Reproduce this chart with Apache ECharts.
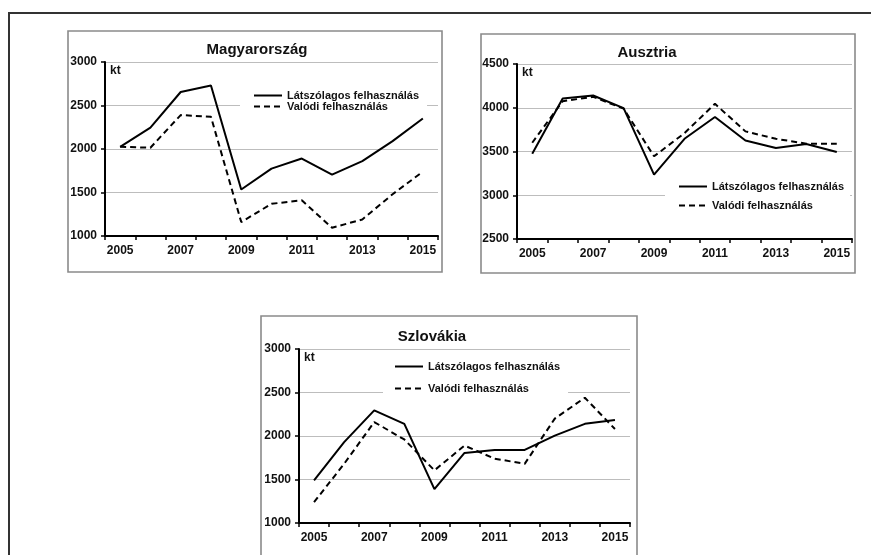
<!DOCTYPE html>
<html>
<head>
<meta charset="utf-8">
<title>Látszólagos és valódi felhasználás</title>
<script src="https://cdn.jsdelivr.net/npm/echarts@6.0.0/dist/echarts.min.js"></script>
<style>
  html, body { margin: 0; padding: 0; background: #fff; }
  #chart { width: 871px; height: 555px; }
</style>
</head>
<body>
<div id="chart"></div>
<script>
// évek (kategóriák)
const years = ['2005', '2006', '2007', '2008', '2009', '2010', '2011', '2012', '2013', '2014', '2015'];

// Magyarország, kt
const huLatszolagos = [2025, 2245, 2655, 2730, 1535, 1775, 1890, 1705, 1860, 2090, 2350];
const huValodi = [2025, 2015, 2390, 2370, 1160, 1370, 1410, 1095, 1190, 1480, 1740];

// Ausztria, kt
const atLatszolagos = [3475, 4105, 4140, 3995, 3235, 3645, 3895, 3625, 3540, 3585, 3495];
const atValodi = [3600, 4075, 4125, 3990, 3445, 3710, 4045, 3730, 3645, 3590, 3590];

// Szlovákia, kt
const skLatszolagos = [1490, 1930, 2295, 2140, 1390, 1805, 1840, 1840, 2005, 2140, 2185];
const skValodi = [1240, 1680, 2160, 1960, 1605, 1890, 1740, 1680, 2200, 2440, 2080];

const titles = ['Magyarország', 'Ausztria', 'Szlovákia'];
const yMin = [1000, 2500, 1000];
const yMax = [3000, 4500, 3000];
const nameSolid = 'Látszólagos felhasználás';
const nameDashed = 'Valódi felhasználás';

const FONT = 'Liberation Sans';

// elrendezés (px)
const grids = [
  { left: 105, top: 62, width: 333, height: 174 },
  { left: 517, top: 64, width: 335, height: 175 },
  { left: 299, top: 349, width: 331, height: 174 }
];
const boxes = [
  { x: 68, y: 31, width: 374, height: 241 },
  { x: 481, y: 34, width: 374, height: 239 },
  { x: 261, y: 316, width: 376, height: 300 }
];
const legends = [
  { left: 240, top: 87, itemGap: 0, padding: [3, 8, 3, 13] },
  { left: 665, top: 178, itemGap: 8, padding: [3, 6, 3, 13] },
  { left: 383, top: 358, itemGap: 11, padding: [3, 8, 3, 11] }
];
const titlePos = [[257, 50], [647, 53], [432, 337]];

const seriesData = [
  [huLatszolagos, huValodi],
  [atLatszolagos, atValodi],
  [skLatszolagos, skValodi]
];

const chart = echarts.init(document.getElementById('chart'), null, { renderer: 'canvas' });

const xAxis = [], yAxis = [], series = [], legend = [], graphic = [];

// külső keret (felső és bal vonal)
graphic.push({
  type: 'polyline',
  shape: { points: [[9, 560], [9, 13], [880, 13]] },
  style: { stroke: '#333', lineWidth: 2, fill: null },
  silent: true
});

for (let i = 0; i < 3; i++) {
  graphic.push({
    type: 'rect',
    shape: boxes[i],
    style: { stroke: '#8a8a8a', lineWidth: 1.6, fill: null },
    z: -1,
    silent: true
  });
  graphic.push({
    type: 'text',
    x: titlePos[i][0],
    y: titlePos[i][1],
    style: {
      text: titles[i],
      font: 'bold 15px "' + FONT + '"',
      fill: '#111',
      align: 'center',
      verticalAlign: 'middle'
    },
    silent: true
  });
  graphic.push({
    type: 'text',
    x: grids[i].left + 5,
    y: grids[i].top + 3,
    style: {
      text: 'kt',
      font: 'bold 12px "' + FONT + '"',
      fill: '#111'
    },
    z: 10,
    silent: true
  });

  xAxis.push({
    type: 'category',
    gridIndex: i,
    data: years,
    boundaryGap: true,
    axisLine: { lineStyle: { color: '#000', width: 2 } },
    axisTick: { show: true, interval: 0, length: 4, lineStyle: { color: '#000', width: 1.5 } },
    axisLabel: {
      interval: 1,
      margin: 9,
      color: '#111',
      fontFamily: FONT,
      fontWeight: 'bold',
      fontSize: 12
    },
    splitLine: { show: false }
  });
  yAxis.push({
    type: 'value',
    gridIndex: i,
    min: yMin[i],
    max: yMax[i],
    interval: 500,
    axisLine: { show: true, lineStyle: { color: '#000', width: 2 } },
    axisTick: { show: true, length: 4, lineStyle: { color: '#000', width: 1.5 } },
    axisLabel: {
      margin: 8,
      color: '#111',
      fontFamily: FONT,
      fontWeight: 'bold',
      fontSize: 12,
      formatter: v => String(v)
    },
    splitLine: { show: true, lineStyle: { color: '#bdbdbd', width: 1 } }
  });

  series.push({
    name: nameSolid,
    type: 'line',
    xAxisIndex: i,
    yAxisIndex: i,
    data: seriesData[i][0],
    symbol: 'none',
    lineStyle: { color: '#000', width: 2, type: 'solid' },
    itemStyle: { color: '#000' },
    z: 3
  });
  series.push({
    name: nameDashed,
    type: 'line',
    xAxisIndex: i,
    yAxisIndex: i,
    data: seriesData[i][1],
    symbol: 'none',
    lineStyle: { color: '#000', width: 2, type: [6, 4] },
    itemStyle: { color: '#000' },
    z: 3
  });

  legend.push({
    orient: 'vertical',
    left: legends[i].left,
    top: legends[i].top,
    itemGap: legends[i].itemGap,
    padding: legends[i].padding,
    backgroundColor: '#fff',
    itemWidth: 28,
    itemHeight: 10,
    selectedMode: false,
    data: [nameSolid, nameDashed],
    itemStyle: { color: 'transparent', borderWidth: 0 },
    textStyle: {
      fontFamily: FONT,
      fontSize: 11,
      fontWeight: 'bold',
      color: '#111',
      lineHeight: 11
    },
    z: 4
  });
}

const option = {
  animation: false,
  backgroundColor: '#fff',
  grid: grids.map(g => Object.assign({ containLabel: false }, g)),
  xAxis: xAxis,
  yAxis: yAxis,
  legend: legend,
  series: series,
  graphic: graphic
};

chart.setOption(option, true);

window.addEventListener('resize', () => {
  chart.resize();
});
</script>
</body>
</html>
